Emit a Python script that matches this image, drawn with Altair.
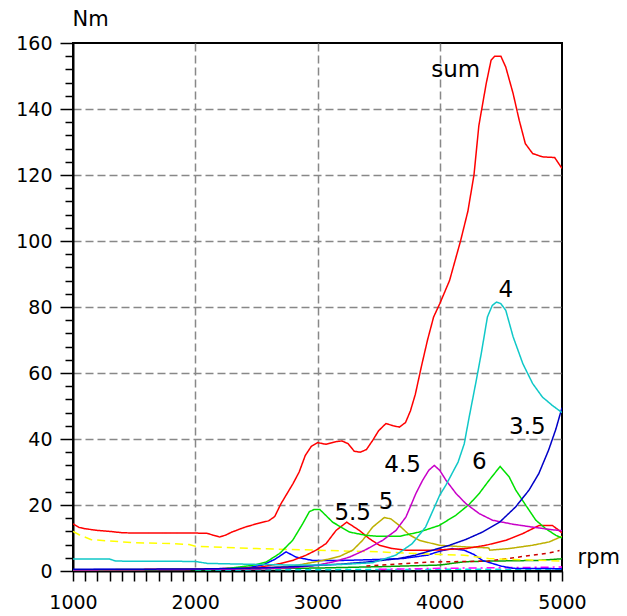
import altair as alt
import pandas as pd

# ---- data ----
sum_rpm = [1000,1050,1100,1200,1300,1400,1500,1700,1900,2000,2100,2150,2200,2250,2300,2400,2500,2600,2650,2700,2800,2850,2900,2950,3000,3070,3150,3200,3250,3300,3350,3400,3450,3500,3560,3620,3670,3720,3760,3800,3850,3900,3950,4000,4080,4170,4230,4280,4320,4380,4420,4450,4500,4540,4600,4650,4700,4760,4840,4940,5000]
sum_nm = [14.3,13.2,12.8,12.3,12.0,11.6,11.5,11.5,11.5,11.5,11.4,10.8,10.3,10.9,11.8,13.2,14.3,15.2,16.5,20.3,26.5,30,35,37.8,38.9,38.4,39.2,39.4,38.6,36.3,36.0,36.8,39.5,42.5,44.7,44.0,43.6,45.0,48.5,53.5,62,70,77,81,88,100,109,120,135,147.7,154.8,156,156,152.7,144.7,136.6,129.5,126.5,125.5,125.3,122]

o4_rpm = [1000,1300,1350,2000,2100,2500,2800,3000,3200,3450,3640,3775,3884,4000,4050,4100,4150,4200,4240,4300,4340,4390,4430,4465,4500,4540,4600,4680,4760,4840,4920,5000]
o4_nm = [3.6,3.6,3.0,2.9,2.3,2.0,1.8,1.8,2.0,2.5,4.8,8.3,13.3,23,26,29.5,33,38.5,46.5,58,66,77,80.5,81.5,81,79,71,62.8,56.8,52.7,50.2,48]

o35_rpm = [1000,2000,2500,2800,3000,3200,3400,3670,3800,3940,4080,4210,4350,4490,4620,4730,4810,4890,4950,5000]
o35_nm = [0.5,0.6,0.9,1.3,1.7,2.1,2.7,3.8,4.8,6.3,7.8,9.5,11.8,14.8,19.4,24.5,29.5,36.6,43,49.5]

o45_rpm = [1000,2000,2500,2800,3000,3124,3261,3397,3533,3642,3724,3805,3860,3910,3955,4000,4051,4133,4214,4323,4431,4595,4758,4921,5000]
o45_nm = [0.3,0.5,0.6,1.0,1.8,2.7,4.2,6.5,9.3,12.3,16.4,23.5,27.5,30.5,32,30.5,27.5,23.5,20.4,17.4,15.4,14.2,13.3,12.5,12.2]

o6_rpm = [1000,2200,2470,2580,2690,2797,2880,2934,2970,3020,3124,3261,3397,3500,3669,3832,3996,4132,4241,4323,4404,4494,4568,4622,4704,4786,4868,4950,5000]
o6_nm = [0.3,0.5,1.7,2.7,5.3,9.3,14.4,18.0,18.6,18.6,14.8,11.8,10.8,10.5,10.5,11.8,13.8,16.9,20.2,23.5,27.5,31.7,28.5,24.5,19.9,15.4,12.8,10.8,10.0]

o55_rpm = [1000,2000,2500,2688,2797,2907,2988,3070,3152,3239,3342,3424,3506,3614,3724,3941,4214,4377,4541,4677,4813,4921,4976,5000]
o55_nm = [0.3,0.5,1.0,2.2,3.2,4.8,6.3,8.3,12.3,14.8,12.3,9.8,7.8,6.8,6.3,6.3,6.8,7.8,9.3,11.3,13.8,13.8,12.3,11.5]

o5_rpm = [1000,2500,2800,3043,3179,3288,3369,3451,3546,3600,3669,3750,3832,3996,4214,4400,4410,4568,4758,4894,5000]
o5_nm = [0.3,0.8,1.5,3.2,4.4,6.3,9.3,13.3,16.2,15.8,13.8,11.0,9.3,7.8,7.3,7.0,6.3,6.8,7.8,8.8,10.5]

yel_rpm = [1000,1050,1150,1300,1500,1800,1950,2000,2500,3000,3500,4000,4200,4400,4600,5000]
yel_nm = [12,11,9.5,9.1,8.6,8.3,8.0,7.5,6.8,6.3,5.8,5.0,4.8,3.8,3.5,3.0]

dred_rpm = [3400,3600,3900,4400,4500,4700,4900,4980]
dred_nm = [1.5,2.0,2.7,3.0,3.5,4.5,5.5,6.2]

grn2_rpm = [2150,2500,3000,3500,4000,4200,4400,4800,5000]
grn2_nm = [0.5,0.7,0.9,1.3,1.8,2.8,3.0,3.2,3.7]

blu2_rpm = [1000,2000,2400,2550,2650,2743,2825,2960,3200,3500,3700,3900,4000,4100,4200,4280,4350,4500,4600,5000]
blu2_nm = [0.4,0.5,0.8,1.8,3.5,5.8,4.2,3.2,3.2,3.5,3.8,4.8,6.0,6.8,6.3,5.0,3.2,1.5,0.8,0.7]

mlow_rpm = [3500,4000,4500,5000]
mlow_nm = [0.5,0.8,1.0,1.2]

clow_rpm = [2000,3000,4000,5000]
clow_nm = [0.3,0.4,0.5,0.5]

series_names = ["cyanlow","maglow","green2","blue2","darkred","yellow","5","5.5","6","4.5","3.5","4","sum"]
series_colors = ["#00E0E0","#FF00FF","#00A000","#0000FF","#CC0000","#FFFF00","#BDB000","#FF0000","#00E000","#C800C8","#0000C8","#10C8C8","#FF0000"]
series_dash = [[6,4],[8,4,2,4],[1,0],[1,0],[4,4],[8,5],[1,0],[1,0],[1,0],[1,0],[1,0],[1,0],[1,0]]

label_text = ["sum","4","3.5","4.5","6","5.5","5"]
label_rpm = [4131,4541,4717,3696,4323,3288,3560]
label_nm = [149.6,83,41.6,30,31,15.4,18.9]

x_ticks = list(range(1000, 5001, 100))
y_ticks = list(range(0, 161, 4))

# ---- build table ----
pairs = {
    "cyanlow": (clow_rpm, clow_nm), "maglow": (mlow_rpm, mlow_nm),
    "green2": (grn2_rpm, grn2_nm), "blue2": (blu2_rpm, blu2_nm),
    "darkred": (dred_rpm, dred_nm), "yellow": (yel_rpm, yel_nm),
    "5": (o5_rpm, o5_nm), "5.5": (o55_rpm, o55_nm), "6": (o6_rpm, o6_nm),
    "4.5": (o45_rpm, o45_nm), "3.5": (o35_rpm, o35_nm), "4": (o4_rpm, o4_nm),
    "sum": (sum_rpm, sum_nm),
}
rows = []
for name in series_names:
    r, v = pairs[name]
    for a, b in zip(r, v):
        rows.append({"series": name, "rpm": a, "nm": b})
df = pd.DataFrame(rows)
labels = pd.DataFrame({"label": label_text, "rpm": label_rpm, "nm": label_nm})

FONT = "DejaVu Sans"

x_axis = alt.Axis(
    values=x_ticks, format="d",
    labelExpr="datum.value % 1000 === 0 ? datum.label : ''",
    labelOverlap=False, labelFlush=False, labelFont=FONT, labelFontSize=19, labelColor="black",
    labelPadding=12, tickSize=10, tickColor="black", tickWidth=1.5,
    domainColor="black", domainWidth=2,
    grid=True, gridColor="#888888", gridDash=[8, 4], gridWidth=1.5,
    gridOpacity={"condition": {"test": "datum.value % 1000 === 0 && datum.value > 1000 && datum.value < 5000", "value": 1}, "value": 0},
    title="rpm", titleAngle=0, titleX=504, titleY=-8, titleAlign="left",
    titleBaseline="alphabetic", titleFont=FONT, titleFontSize=21,
    titleFontWeight="normal", titleColor="black",
)
y_axis = alt.Axis(
    values=y_ticks, format="d",
    labelExpr="datum.value % 20 === 0 ? datum.label : ''",
    labelOverlap=False, labelFlush=False, labelFont=FONT, labelFontSize=19, labelColor="black",
    labelPadding=8,
    tickSize={"condition": {"test": "datum.value % 20 === 0", "value": 13}, "value": 8},
    tickColor="black", tickWidth=1.5,
    domainColor="black", domainWidth=2,
    grid=True, gridColor="#888888", gridDash=[8, 4], gridWidth=1.5,
    gridOpacity={"condition": {"test": "datum.value % 20 === 0 && datum.value > 0 && datum.value < 160", "value": 1}, "value": 0},
    title="Nm", titleAngle=0, titleX=-1, titleY=-18, titleAlign="left",
    titleBaseline="alphabetic", titleFont=FONT, titleFontSize=21,
    titleFontWeight="normal", titleColor="black",
)

xs = alt.Scale(domain=[1000, 5000], nice=False, zero=False)
ys = alt.Scale(domain=[0, 160], nice=False)

lines = alt.Chart(df).mark_line(strokeWidth=1.5, clip=True).encode(
    x=alt.X("rpm:Q", scale=xs, axis=x_axis, title="rpm"),
    y=alt.Y("nm:Q", scale=ys, axis=y_axis, title="Nm"),
    color=alt.Color("series:N", scale=alt.Scale(domain=series_names, range=series_colors), legend=None),
    strokeDash=alt.StrokeDash("series:N", scale=alt.Scale(domain=series_names, range=series_dash), legend=None),
    detail="series:N",
)

texts = alt.Chart(labels).mark_text(
    font=FONT, fontSize=23, color="black", align="center", baseline="alphabetic"
).encode(
    x=alt.X("rpm:Q", scale=xs, axis=x_axis, title="rpm"),
    y=alt.Y("nm:Q", scale=ys, axis=y_axis, title="Nm"),
    text="label:N",
)

chart = alt.layer(lines, texts).properties(
    width=489, height=528,
    autosize=alt.AutoSizeParams(type="none"),
    padding={"left": 73, "top": 43, "right": 65, "bottom": 45},
    background="white",
).configure_view(stroke="black", strokeWidth=2)

chart.save("out.html", embed_options={"renderer": "svg", "actions": False})
